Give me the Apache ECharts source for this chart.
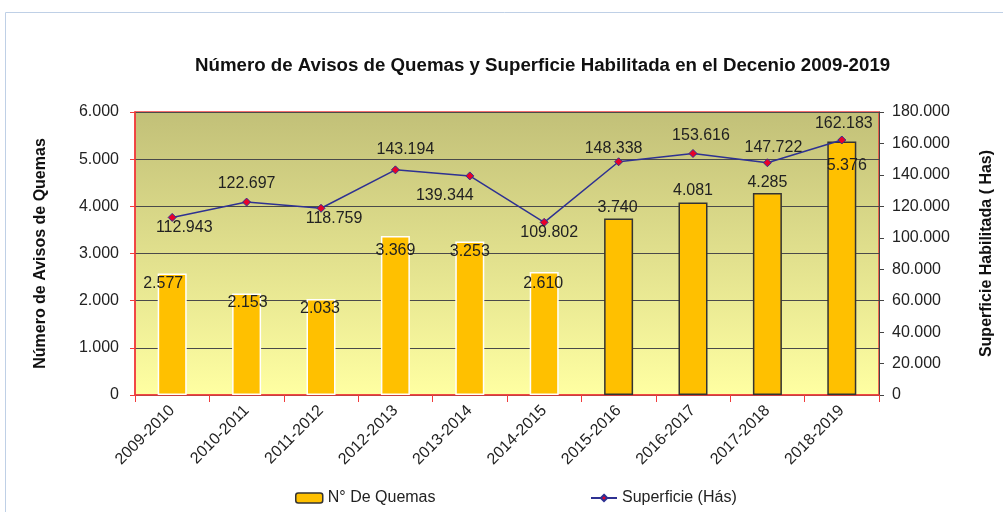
<!DOCTYPE html>
<html>
<head>
<meta charset="utf-8">
<script src="https://cdn.jsdelivr.net/npm/echarts@6/dist/echarts.min.js"></script>
<style>
  html, body { margin: 0; padding: 0; background: #fff; }
  #chart { width: 1003px; height: 512px; }
</style>
</head>
<body>
<div id="chart"></div>
<script>
// periods and values
const periods = ['2009-2010', '2010-2011', '2011-2012', '2012-2013', '2013-2014',
  '2014-2015', '2015-2016', '2016-2017', '2017-2018', '2018-2019']
const quemas = [2577, 2153, 2033, 3369, 3253, 2610, 3740, 4081, 4285, 5376]
const superficie = [112943, 122697, 118759, 143194, 139344, 109802, 148338, 153616, 147722, 162183]

// label nudges so they sit where the original puts them
const barLabelOffsets = [[-9, 2], [1, 1], [-1, 1], [0, 6], [0, 2], [-1, 4], [-1, -19], [0, -20], [0, -18], [5, 16]]
const lineLabelOffsets = [[12, 10], [0, -18], [13, 10], [10, -20], [-25, 20], [5, 10], [-5, -13], [8, -18], [6, -15], [2, -16]]

function fmt(v) {
  return String(v).replace(/\B(?=(\d{3})+(?!\d))/g, '.')
}

const chart = echarts.init(document.getElementById('chart'))
const font = 'Liberation Sans, Arial, sans-serif'

const option = {
  textStyle: { fontFamily: font },
  animation: false,
  title: {
    text: 'Número de Avisos de Quemas y Superficie Habilitada en el Decenio 2009-2019',
    left: 190,
    top: 51,
    textStyle: { fontSize: 18.7, fontWeight: 'bold', color: '#111', fontFamily: font }
  },
  graphic: [{
    type: 'rect',
    shape: { x: 5.5, y: 12.5, width: 1010, height: 520 },
    style: { fill: 'none', stroke: '#BFD0E6', lineWidth: 1 },
    silent: true
  }],
  legend: [
    {
      data: [{ name: 'N° De Quemas', itemStyle: { color: '#FFC000', borderColor: '#333', borderWidth: 1.5 } }],
      left: 290, top: 485, itemWidth: 27, itemHeight: 10,
      textStyle: { fontSize: 16, color: '#222', fontFamily: font }
    },
    {
      data: ['Superficie (Hás)'],
      left: 585, top: 485, itemWidth: 26, itemHeight: 8,
      textStyle: { fontSize: 16, color: '#222', fontFamily: font }
    }
  ],
  grid: {
    left: 135, right: 124, top: 112, bottom: 117,
    show: true,
    borderColor: '#F03C3C',
    borderWidth: 1.5,
    backgroundColor: new echarts.graphic.LinearGradient(0, 0, 0, 1, [
      { offset: 0, color: '#C2C078' },
      { offset: 1, color: '#FFFFA2' }
    ])
  },
  xAxis: {
    type: 'category',
    data: periods,
    axisLine: { lineStyle: { color: '#F03C3C', width: 1.5 } },
    axisTick: { show: true, length: 7, lineStyle: { color: '#F03C3C' } },
    axisLabel: { rotate: 45, fontSize: 16, color: '#222', margin: 13, fontFamily: font }
  },
  yAxis: [
    {
      type: 'value',
      min: 0, max: 6000, interval: 1000,
      name: 'Número de Avisos de Quemas',
      nameLocation: 'middle',
      nameGap: 86,
      nameRotate: 90,
      nameTextStyle: { fontSize: 16, fontWeight: 'bold', color: '#111', fontFamily: font },
      axisLine: { show: true, lineStyle: { color: '#F03C3C', width: 1.5 } },
      axisTick: { show: true, length: 5, lineStyle: { color: '#F03C3C' } },
      axisLabel: { fontSize: 16, color: '#222', margin: 16, formatter: fmt, fontFamily: font },
      splitLine: { show: true, lineStyle: { color: '#4A4A4A', width: 1 } }
    },
    {
      type: 'value',
      min: 0, max: 180000, interval: 20000,
      name: 'Superficie Habilitada ( Has)',
      nameLocation: 'middle',
      nameGap: 100,
      nameRotate: 90,
      nameTextStyle: { fontSize: 16, fontWeight: 'bold', color: '#111', fontFamily: font },
      axisLine: { show: true, lineStyle: { color: '#444', width: 1 } },
      axisTick: { show: true, length: 5, lineStyle: { color: '#444' } },
      axisLabel: { fontSize: 16, color: '#222', margin: 13, formatter: fmt, fontFamily: font },
      splitLine: { show: false }
    }
  ],
  series: [
    {
      name: 'N° De Quemas',
      type: 'bar',
      yAxisIndex: 0,
      barWidth: 29,
      itemStyle: { color: '#FFC000' },
      data: quemas.map((v, i) => ({
        value: v,
        itemStyle: i < 6
          ? { borderColor: '#FFFFFF', borderWidth: 1.5 }
          : { borderColor: '#333', borderWidth: 1.5 },
        label: {
          show: true,
          position: 'insideTop',
          distance: 0,
          offset: barLabelOffsets[i],
          fontSize: 16,
          color: '#222',
          fontFamily: font,
          formatter: p => fmt(p.value)
        }
      }))
    },
    {
      name: 'Superficie (Hás)',
      type: 'line',
      yAxisIndex: 1,
      symbol: 'diamond',
      symbolSize: 8,
      lineStyle: { color: '#2E3192', width: 1.5 },
      itemStyle: { color: '#E8002A', borderColor: '#2E3192', borderWidth: 1 },
      data: superficie.map((v, i) => ({
        value: v,
        label: {
          show: true,
          position: 'inside',
          offset: lineLabelOffsets[i],
          fontSize: 16,
          color: '#222',
          fontFamily: font,
          formatter: p => fmt(p.value)
        }
      })),
      z: 5
    }
  ]
}

chart.setOption(option)
window.addEventListener('resize', () => chart.resize())
</script>
</body>
</html>
